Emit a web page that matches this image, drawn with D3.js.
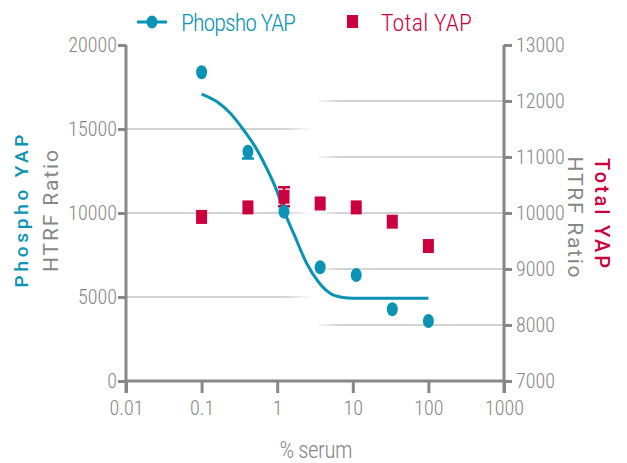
<!DOCTYPE html>
<html>
<head>
<meta charset="utf-8">
<script src="https://cdn.jsdelivr.net/npm/d3@7"></script>
<style>
  body { margin: 0; background: #fff; }
</style>
</head>
<body>
<svg id="chart" width="627" height="463"></svg>
<script>
// % serum (3-fold dilution series)
const serum = [0.1, 0.41, 1.23, 3.7, 11.1, 33.3, 100];
// Phospho YAP HTRF ratio (left axis), error shown below the mark only
const phospho = [18380, 13650, 10080, 6770, 6310, 4270, 3570];
const phosphoErr = [0, 400, 0, 0, 0, 0, 0];
// Total YAP HTRF ratio (right axis)
const total = [9930, 10100, 10290, 10170, 10100, 9845, 9410];
const totalErr = [0, 0, 170, 0, 0, 0, 0];
// fitted curve for Phospho YAP
const fitX = [0.1, 0.16, 0.24, 0.36, 0.51, 0.69, 0.94, 1.27, 1.72, 2.45, 3.5, 5.0, 7.1, 10.2, 100];
const fitY = [17080, 16620, 15940, 14940, 13950, 12860, 11570, 9980, 8590, 7010, 5910, 5220, 4980, 4920, 4920];

const xTicks = [0.01, 0.1, 1, 10, 100, 1000];
const xTickLabels = ["0.01", "0.1", "1", "10", "100", "1000"];
const leftTicks = [0, 5000, 10000, 15000, 20000];
const rightTicks = [7000, 8000, 9000, 10000, 11000, 12000, 13000];

const teal = "#0a93b4", red = "#cc003f", grey = "#878787";
const cond = '"Roboto Condensed", "DejaVu Sans Condensed"';
const sans = 'Roboto, "Liberation Sans"';
const svg = d3.select("#chart");

const x = d3.scaleLog().domain([0.01, 1000]).range([126, 504]);
const yL = d3.scaleLinear().domain([0, 20000]).range([381, 45]);
const yR = d3.scaleLinear().domain([7000, 13000]).range([381, 45]);

// gradients for the half-width gridlines
const defs = svg.append("defs");
const gl = defs.append("linearGradient").attr("id", "gridL").attr("gradientUnits", "userSpaceOnUse")
    .attr("x1", 126).attr("x2", 312).attr("y1", 0).attr("y2", 0);
gl.append("stop").attr("offset", "0%").attr("stop-color", "#c4c4c4");
gl.append("stop").attr("offset", "85%").attr("stop-color", "#c4c4c4");
gl.append("stop").attr("offset", "100%").attr("stop-color", "#c4c4c4").attr("stop-opacity", 0);
const gr = defs.append("linearGradient").attr("id", "gridR").attr("gradientUnits", "userSpaceOnUse")
    .attr("x1", 316).attr("x2", 504).attr("y1", 0).attr("y2", 0);
gr.append("stop").attr("offset", "0%").attr("stop-color", "#c4c4c4").attr("stop-opacity", 0);
gr.append("stop").attr("offset", "12%").attr("stop-color", "#c4c4c4");
gr.append("stop").attr("offset", "100%").attr("stop-color", "#c4c4c4");

svg.append("g").selectAll("line").data(leftTicks.slice(1, -1)).join("line")
    .attr("x1", 126).attr("x2", 312).attr("y1", d => yL(d)).attr("y2", d => yL(d))
    .attr("stroke", "url(#gridL)").attr("stroke-width", 1.5);
svg.append("g").selectAll("line").data(rightTicks.slice(1, -1)).join("line")
    .attr("x1", 316).attr("x2", 504).attr("y1", d => yR(d)).attr("y2", d => yR(d))
    .attr("stroke", "url(#gridR)").attr("stroke-width", 1.5);

// axes
function styleAxis(g) {
    g.select(".domain").remove();
    g.selectAll(".tick line").attr("stroke", grey).attr("stroke-width", 3);
    g.selectAll(".tick text").attr("fill", grey).attr("font-size", 20).attr("font-weight", 300)
        .style("font-family", cond);
}
svg.append("g").attr("transform", "translate(126,0)")
    .call(d3.axisLeft(yL).tickValues(leftTicks).tickSize(8).tickPadding(1).tickFormat(d3.format("d")))
    .call(styleAxis);
svg.append("g").attr("transform", "translate(504,0)")
    .call(d3.axisRight(yR).tickValues(rightTicks).tickSize(8).tickPadding(4).tickFormat(d3.format("d")))
    .call(styleAxis);
svg.append("g").attr("transform", "translate(0,381)")
    .call(d3.axisBottom(x).tickValues(xTicks).tickSize(12).tickPadding(8).tickFormat((d, i) => xTickLabels[i]))
    .call(styleAxis);

const axisLines = [
    [x(0.01), yL(20000), x(0.01), yL(0) + 12],
    [x(1000), yR(13000), x(1000), yR(7000) + 12],
    [x(0.01) - 1.5, yL(0), x(1000) + 1.5, yL(0)]
];
svg.append("g").selectAll("line").data(axisLines).join("line")
    .attr("x1", d => d[0]).attr("y1", d => d[1]).attr("x2", d => d[2]).attr("y2", d => d[3])
    .attr("stroke", grey).attr("stroke-width", 3);

// axis titles
function title(tx, ty, rot, txt, color, size, weight, len) {
    svg.append("text").attr("transform", `translate(${tx},${ty}) rotate(${rot})`)
        .attr("text-anchor", "middle").attr("fill", color).attr("font-size", size)
        .attr("font-weight", weight).style("font-family", sans)
        .attr("textLength", len).attr("lengthAdjust", "spacing").text(txt);
}
title(28, 211, -90, "Phospho YAP", teal, 19, 500, 153);
title(58, 211, -90, "HTRF Ratio", grey, 21, 400, 122);
title(568, 217, 90, "HTRF Ratio", grey, 21, 400, 121);
title(595, 213, 90, "Total YAP", red, 20, 500, 110);

svg.append("text").attr("x", 316).attr("y", 458).attr("text-anchor", "middle")
    .attr("fill", grey).attr("font-size", 23).attr("font-weight", 300).style("font-family", cond)
    .attr("textLength", 73).attr("lengthAdjust", "spacing").text("% serum");

// fitted curve
const line = d3.line().x((d, i) => x(fitX[i])).y(d => yL(d)).curve(d3.curveMonotoneX);
svg.append("path").attr("d", line(fitY)).attr("fill", "none").attr("stroke", teal).attr("stroke-width", 3);

// error bars
const pts = serum.map((s, i) => ({ s, p: phospho[i], pe: phosphoErr[i], t: total[i], te: totalErr[i] }));
const eb = svg.append("g");
pts.filter(d => d.pe > 0).forEach(d => {
    const cx = x(d.s), y1 = yL(d.p - d.pe), y2 = yL(d.p);
    eb.append("path").attr("d", `M${cx},${y1}V${y2}M${cx - 6},${y1}H${cx + 6}`)
        .attr("stroke", teal).attr("stroke-width", 2.5).attr("fill", "none");
});
pts.filter(d => d.te > 0).forEach(d => {
    const cx = x(d.s), y1 = yR(d.t - d.te), y2 = yR(d.t + d.te);
    eb.append("path").attr("d", `M${cx},${y1}V${y2}M${cx - 6},${y1}H${cx + 6}M${cx - 6},${y2}H${cx + 6}`)
        .attr("stroke", red).attr("stroke-width", 2.5).attr("fill", "none");
});

// points
svg.append("g").selectAll("rect").data(pts).join("rect")
    .attr("x", d => x(d.s) - 5.5).attr("y", d => yR(d.t) - 7).attr("width", 11).attr("height", 14)
    .attr("fill", red);
svg.append("g").selectAll("ellipse").data(pts).join("ellipse")
    .attr("cx", d => x(d.s)).attr("cy", d => yL(d.p)).attr("rx", 5.5).attr("ry", 7)
    .attr("fill", teal);

// legend
const lg = svg.append("g").style("font-family", cond);
lg.append("line").attr("x1", 137).attr("x2", 167).attr("y1", 22).attr("y2", 22)
    .attr("stroke", teal).attr("stroke-width", 3);
lg.append("ellipse").attr("cx", 152).attr("cy", 22).attr("rx", 5.5).attr("ry", 6.5).attr("fill", teal);
lg.append("text").attr("x", 181).attr("y", 31).attr("fill", teal).attr("font-size", 24).attr("font-weight", 300)
    .attr("textLength", 115).attr("lengthAdjust", "spacing").text("Phopsho YAP");
lg.append("rect").attr("x", 347).attr("y", 15).attr("width", 11).attr("height", 13).attr("fill", red);
lg.append("text").attr("x", 381).attr("y", 31).attr("fill", red).attr("font-size", 24).attr("font-weight", 300)
    .attr("textLength", 91).attr("lengthAdjust", "spacing").text("Total YAP");
</script>
</body>
</html>
